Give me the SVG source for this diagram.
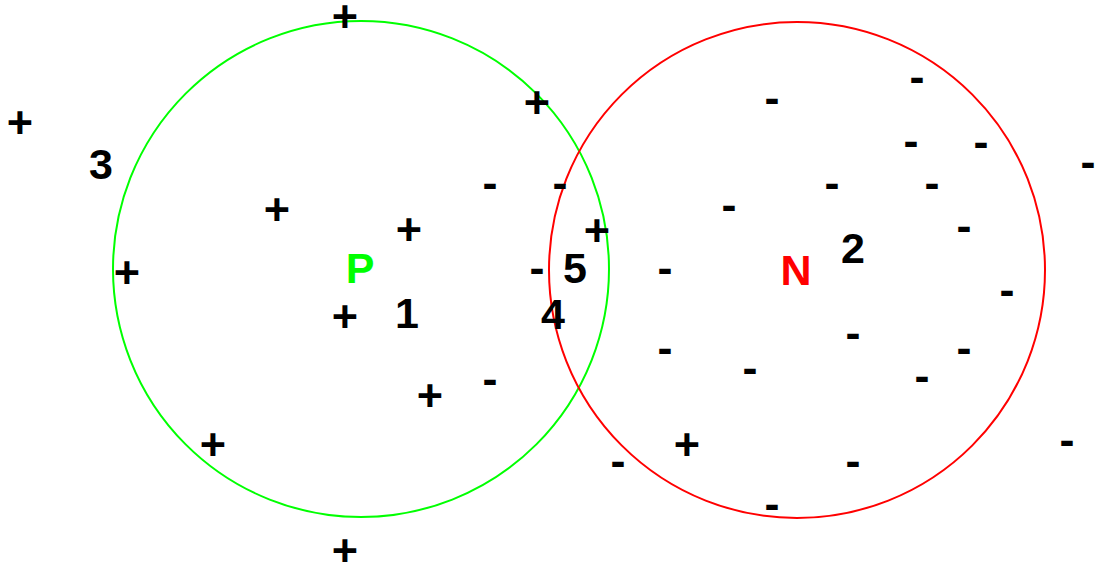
<svg xmlns="http://www.w3.org/2000/svg" width="1097" height="566" viewBox="0 0 1097 566">
<style>
.c{fill:none;stroke-width:2}
.m{font-family:"Liberation Sans",Arial,sans-serif;font-weight:bold;font-size:45px;fill:#000;text-anchor:middle}
.l{font-family:"Liberation Sans",Arial,sans-serif;font-weight:bold;font-size:43px;fill:#000;text-anchor:middle}
</style>
<rect width="1097" height="566" fill="#fff"/>
<g id="circles">
<circle id="circleP" class="c" cx="361" cy="269" r="248" stroke="#00ff00"/>
<circle id="circleN" class="c" cx="797" cy="270" r="248" stroke="#ff0000"/>
</g>
<g id="plus" class="m">
<text x="345" y="32">+</text>
<text x="20" y="138">+</text>
<text x="277" y="225">+</text>
<text x="127" y="288">+</text>
<text x="537" y="118">+</text>
<text x="409" y="245">+</text>
<text x="597" y="246">+</text>
<text x="345" y="332">+</text>
<text x="430" y="411">+</text>
<text x="213" y="460">+</text>
<text x="345" y="566">+</text>
<text x="687" y="460">+</text>
</g>
<g id="minus" class="m">
<text x="917" y="92">-</text>
<text x="772" y="113">-</text>
<text x="911" y="156">-</text>
<text x="981" y="157">-</text>
<text x="1088" y="177">-</text>
<text x="490" y="198">-</text>
<text x="560" y="198">-</text>
<text x="832" y="198">-</text>
<text x="932" y="198">-</text>
<text x="729" y="220">-</text>
<text x="964" y="241">-</text>
<text x="537" y="283">-</text>
<text x="665" y="283">-</text>
<text x="1007" y="305">-</text>
<text x="853" y="348">-</text>
<text x="665" y="363">-</text>
<text x="964" y="363">-</text>
<text x="750" y="383">-</text>
<text x="922" y="391">-</text>
<text x="490" y="394">-</text>
<text x="1067" y="455">-</text>
<text x="618" y="476">-</text>
<text x="853" y="476">-</text>
<text x="772" y="519">-</text>
</g>
<g id="labels" class="l">
<text id="label3" x="101" y="179">3</text>
<text id="labelP" x="360" y="283" fill="#00ff00">P</text>
<text id="label5" x="575" y="283">5</text>
<text id="labelN" x="796" y="285" fill="#ff0000">N</text>
<text id="label2" x="853" y="263">2</text>
<text id="label1" x="407" y="328">1</text>
<text id="label4" x="553" y="329">4</text>
</g>
</svg>
